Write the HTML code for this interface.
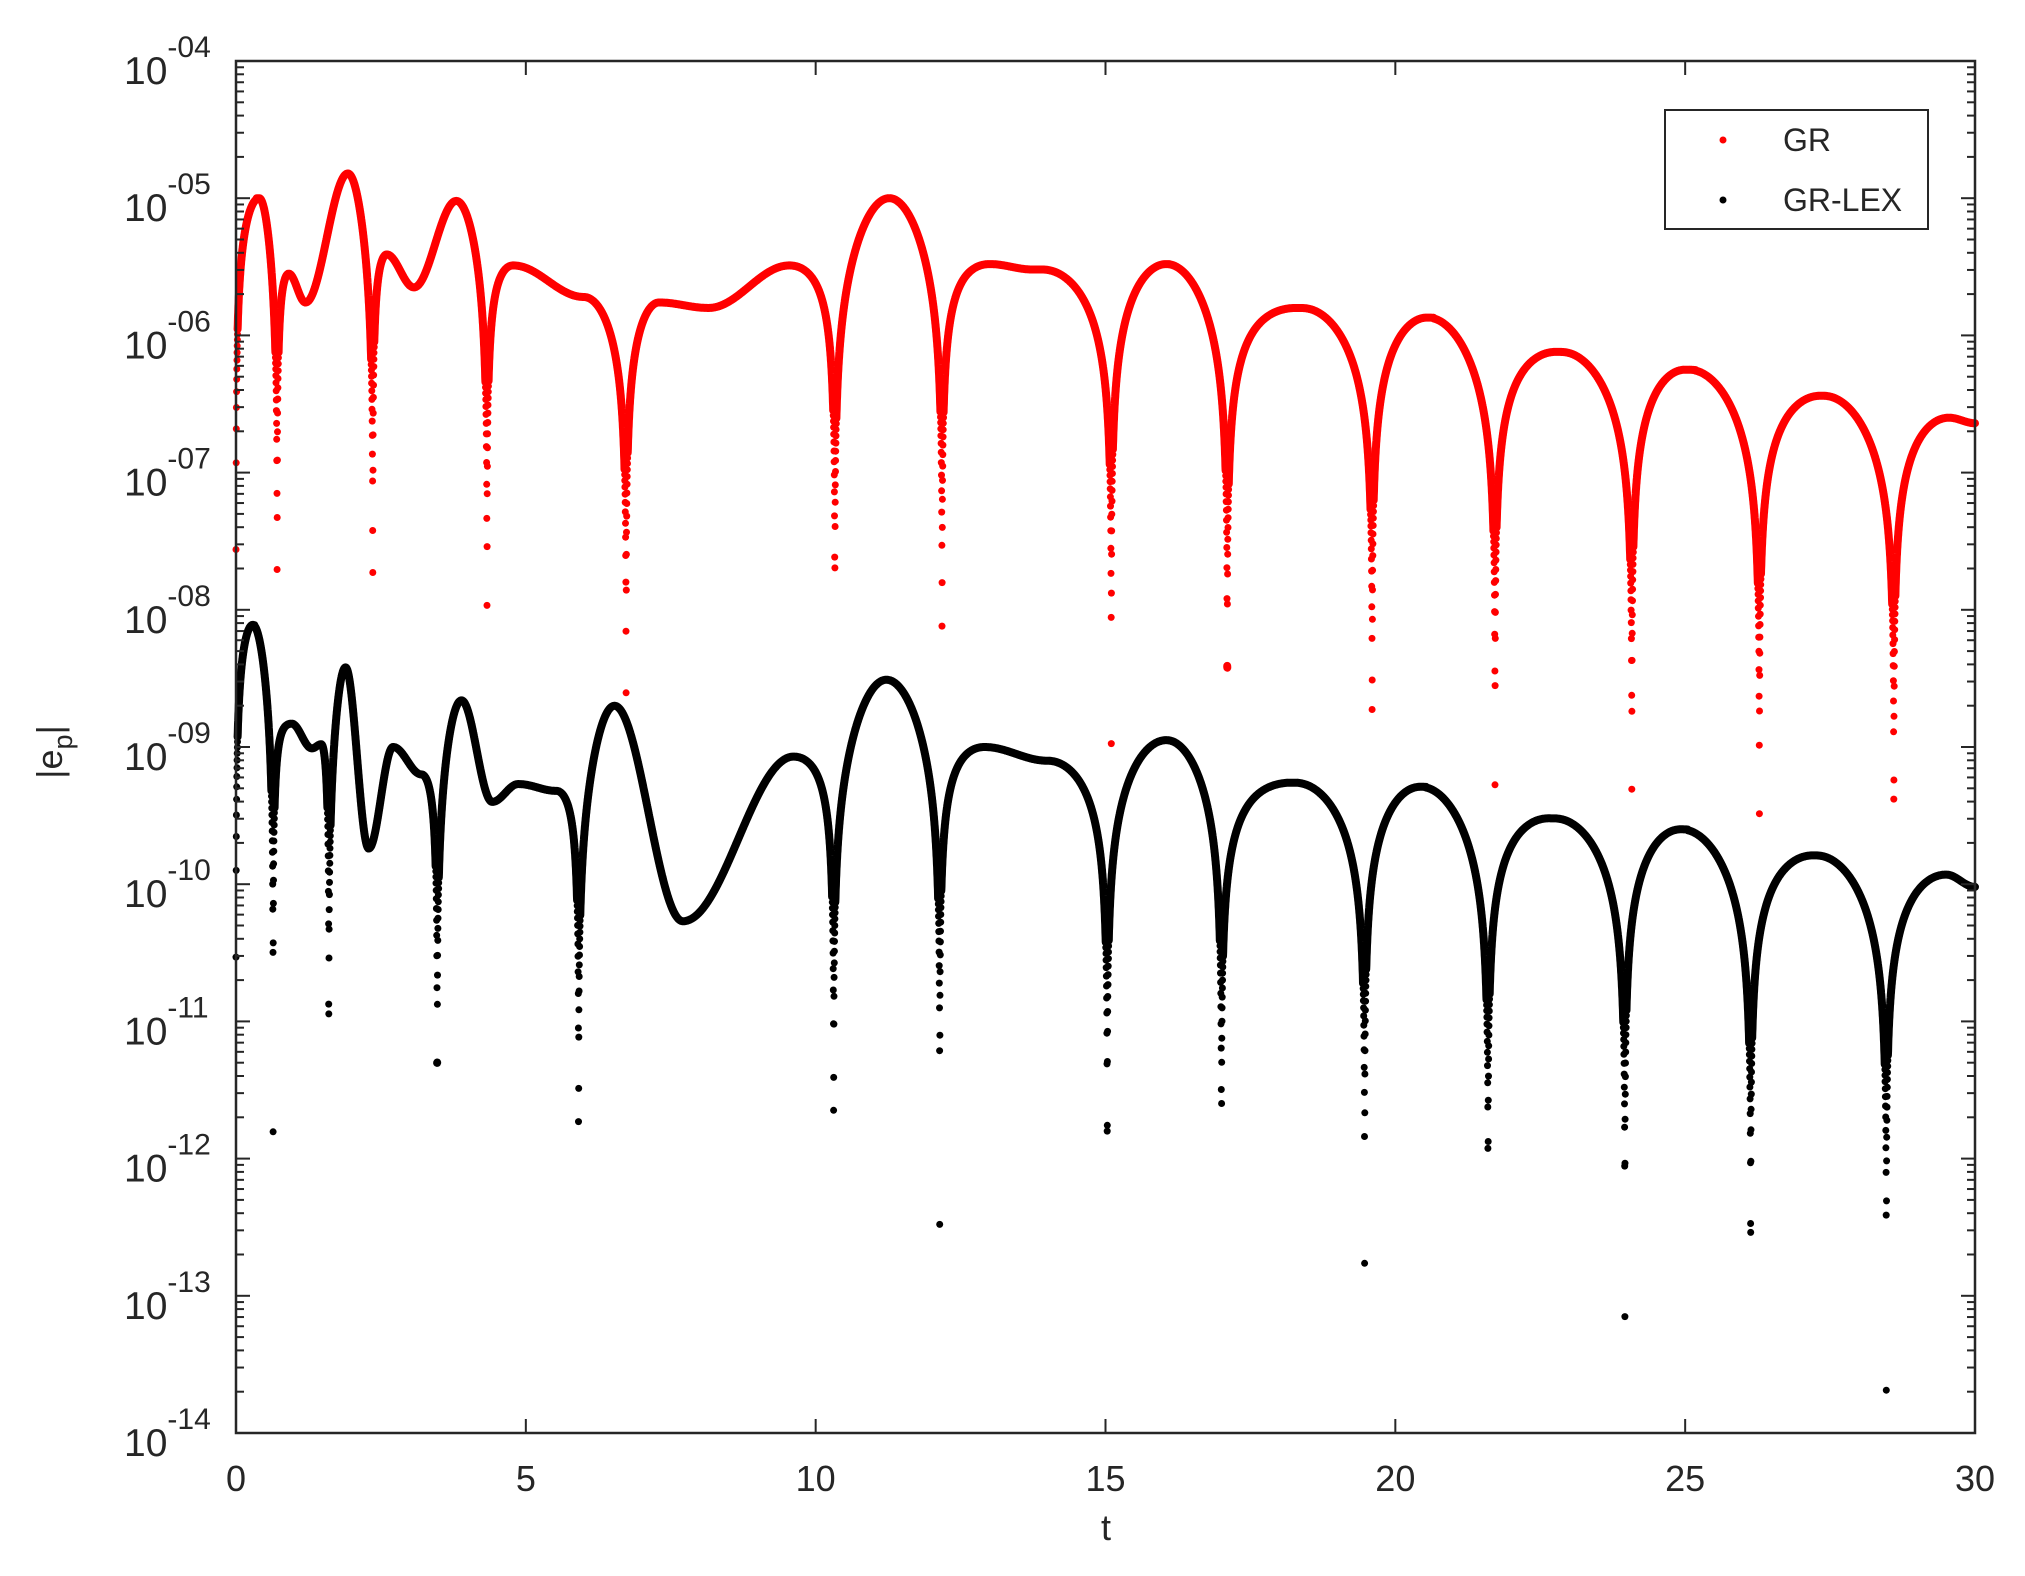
<!DOCTYPE html>
<html><head><meta charset="utf-8"><style>
html,body{margin:0;padding:0;background:#fff;}
svg text{font-family:"Liberation Sans",Arial,sans-serif;fill:#262626;}
</style></head><body>
<svg id="chart" width="2025" height="1571" viewBox="0 0 2025 1571" xmlns="http://www.w3.org/2000/svg">
<rect x="0" y="0" width="2025" height="1571" fill="#fff"/>
<g id="plot"></g>
<g id="axes"></g>
<g id="legend">
<rect x="1665" y="110" width="263" height="119" fill="#fff" stroke="#262626" stroke-width="2"/>
<circle cx="1723" cy="140" r="3.5" fill="#ff0000"/>
<text x="1783" y="151" font-size="32">GR</text>
<circle cx="1723" cy="200" r="3.5" fill="#000"/>
<text x="1783" y="211" font-size="32">GR-LEX</text>
</g>
<text x="1106" y="1540" font-size="36" text-anchor="middle">t</text>
<text transform="translate(62,752) rotate(-90)" font-size="36" text-anchor="middle">|e<tspan font-size="27" dy="10">p</tspan><tspan dy="-10">|</tspan></text>
</svg>
<script>
// ---- data ----
const redKeyT   = [0.4,0.91,1.2,1.93,2.6,3.07,3.8,4.78,6.0,7.3,8.15,9.55,11.27,13.0,13.75,16.05,18.28,20.55,22.77,25.0,27.33,29.55,30];
const redKeyLog = [-5.0,-5.55,-5.76,-4.82,-5.41,-5.65,-5.02,-5.49,-5.72,-5.76,-5.8,-5.49,-5.0,-5.48,-5.52,-5.48,-5.8,-5.87,-6.12,-6.25,-6.44,-6.6,-6.64];
const redZeros  = [0,0.71,2.36,4.33,6.73,10.33,12.18,15.1,17.1,19.6,21.72,24.08,26.28,28.6];
const blackKeyT   = [0.29,0.96,1.31,1.47,1.89,2.29,2.71,3.2,3.89,4.42,4.87,5.53,6.53,7.71,9.62,11.22,12.91,14.0,16.05,18.2,20.43,22.64,24.92,27.2,29.5,30];
const blackKeyLog = [-8.11,-8.83,-9.01,-8.98,-8.42,-9.74,-9.0,-9.2,-8.66,-9.4,-9.27,-9.32,-8.7,-10.27,-9.07,-8.51,-9.0,-9.1,-8.95,-9.26,-9.29,-9.52,-9.6,-9.79,-9.93,-10.02];
const blackZeros  = [0,0.64,1.6,3.47,5.91,10.31,12.14,15.03,17.0,19.47,21.6,23.96,26.13,28.47];
const xTicks = [0,5,10,15,20,25,30];
const yTicks = [-14,-13,-12,-11,-10,-9,-8,-7,-6,-5,-4];
const yTickLabels = ["-14","-13","-12","-11","-10","-09","-08","-07","-06","-05","-04"];

// ---- axes functions ----
const X0=236,X1=1975,Y0=61,Y1=1433;
const xS=t=>X0+(t-0)/(30-0)*(X1-X0);
const yS=l=>Y1-(l-(-14))/(-4-(-14))*(Y1-Y0);
const NS="http://www.w3.org/2000/svg";
function mk(tag,attrs,parent){const e=document.createElementNS(NS,tag);for(const k in attrs)e.setAttribute(k,attrs[k]);parent.appendChild(e);return e;}
const plot=document.getElementById('plot'), axes=document.getElementById('axes');

function env(t,kt,kl){
  if(t<=kt[0])return kl[0];
  for(let i=0;i<kt.length-1;i++){
    if(t>=kt[i]&&t<=kt[i+1]){const u=(t-kt[i])/(kt[i+1]-kt[i]);const s=(1-Math.cos(Math.PI*u))/2;return kl[i]+(kl[i+1]-kl[i])*s;}
  }
  return kl[kl.length-1];
}
function val(t,kt,kl,zs){
  let z=zs[0];for(const q of zs)if(Math.abs(t-q)<Math.abs(t-z))z=q;
  const d=Math.abs(t-z);
  let w;
  if(t>=z){const nx=kt.find(k=>k>z);w=nx===undefined?1:nx-z;}
  else{let pv=null;for(const k of kt)if(k<z)pv=k;w=pv===null?1:z-pv;}
  w=Math.min(w,1.2);
  const f=Math.sin(Math.PI/2*Math.min(1,d/w));
  if(f<=0)return null;
  return env(t,kt,kl)+Math.log10(f);
}
function drawSeries(kt,kl,zs,color,name){
  const g=mk('g',{},plot);
  
  
  const dt=0.0023;const pts=[];
  for(let t=0.0007;t<=30;t+=dt){const l=val(t,kt,kl,zs);if(l===null||l<-14)continue;pts.push([xS(t),yS(Math.min(l,-4))]);}
  let seg=[];const segs=[];const dots=[];
  for(let i=0;i<pts.length;i++){
    if(i>0&&Math.abs(pts[i][1]-pts[i-1][1])>5){if(seg.length>1)segs.push(seg);else if(seg.length===1)dots.push(seg[0]);seg=[];}
    seg.push(pts[i]);
  }
  if(seg.length>1)segs.push(seg);else if(seg.length===1)dots.push(seg[0]);
  for(const s of segs){
    const p=mk('polyline',{points:s.map(q=>q[0].toFixed(1)+','+q[1].toFixed(1)).join(' '),fill:'none',stroke:color,'stroke-width':8,'stroke-linejoin':'round','stroke-linecap':'round'},g);
    
    
  }
  for(const q of dots){
    const c=mk('circle',{cx:q[0].toFixed(1),cy:q[1].toFixed(1),r:3.5,fill:color},g);
    
    
  }
}
drawSeries(redKeyT,redKeyLog,redZeros,'#ff0000','series-gr');
drawSeries(blackKeyT,blackKeyLog,blackZeros,'#000000','series-gr-lex');

// frame & ticks
const fr=mk('rect',{x:X0,y:Y0,width:X1-X0,height:Y1-Y0,fill:'none',stroke:'#262626','stroke-width':2.5},axes);


xTicks.forEach(t=>{
  const x=xS(t);
  mk('line',{x1:x,y1:Y1,x2:x,y2:Y1-14,stroke:'#262626','stroke-width':2},axes);
  mk('line',{x1:x,y1:Y0,x2:x,y2:Y0+14,stroke:'#262626','stroke-width':2},axes);
  const tx=mk('text',{x:x,y:1491,'font-size':36,'text-anchor':'middle'},axes);
  tx.textContent=String(t);
  
  
});
yTicks.forEach((l,i)=>{
  const y=yS(l);
  mk('line',{x1:X0,y1:y,x2:X0+14,y2:y,stroke:'#262626','stroke-width':2},axes);
  mk('line',{x1:X1,y1:y,x2:X1-14,y2:y,stroke:'#262626','stroke-width':2},axes);
  if(l<-4){for(let m=2;m<=9;m++){const ym=yS(l+Math.log10(m));
    mk('line',{x1:X0,y1:ym,x2:X0+8,y2:ym,stroke:'#262626','stroke-width':2},axes);
    mk('line',{x1:X1,y1:ym,x2:X1-8,y2:ym,stroke:'#262626','stroke-width':2},axes);}}
  const tx=mk('text',{x:124,y:y+23,'font-size':39},axes);
  
  
  tx.textContent='10';
  const sp=mk('tspan',{dy:-27,'font-size':30},tx);
  sp.textContent=yTickLabels[i];
});
</script>
</body></html>
